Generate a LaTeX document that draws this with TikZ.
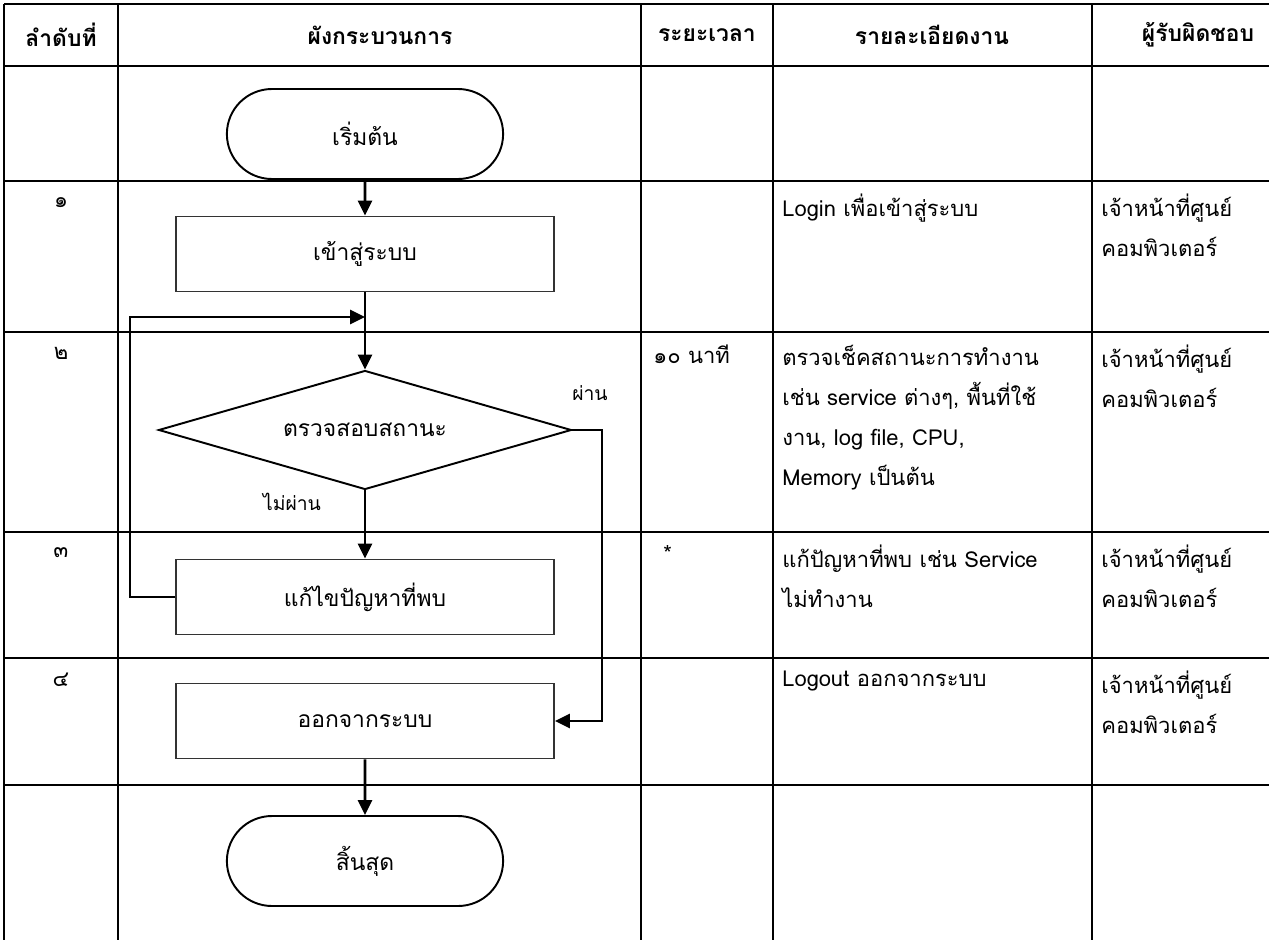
\documentclass[tikz,border=0pt]{standalone}
\usepackage{fontspec}
\setmainfont[Script=Thai]{Loma}
\usetikzlibrary{shapes, arrows.meta, positioning}
\tikzset{tableline/.style={line width=1.6pt}}
\tikzset{head/.style={inner sep=0pt, font=\fontsize{13}{16}\selectfont\bfseries}}
\tikzset{cell/.style={anchor=north west, align=left, inner sep=0pt, font=\fontsize{12.5}{22.7}\selectfont}}
\tikzset{num/.style={anchor=north, inner sep=0pt, font=\fontsize{12.5}{22.7}\selectfont}}
\tikzset{proc/.style={draw=black!80, line width=1.1pt, rectangle, minimum width=7.56cm, minimum height=1.5cm, font=\fontsize{13}{16}\selectfont}}
\tikzset{term/.style={draw, line width=1.1pt, rounded rectangle, minimum width=5.76cm, minimum height=1.8cm, font=\fontsize{13}{16}\selectfont}}
\tikzset{decide/.style={draw, line width=1.1pt, diamond, aspect=3.5, inner sep=0pt, minimum width=8.26cm, minimum height=2.38cm, font=\fontsize{13}{16}\selectfont}}
\tikzset{tag/.style={inner sep=0pt, font=\fontsize{11}{14}\selectfont}}
\tikzset{edge/.style={line width=1.5pt, -{Triangle[length=0.3cm, width=0.28cm]}}}

\begin{document}
\begin{tikzpicture}[x=0.02cm, y=-0.02cm]
            \useasboundingbox (0, 0) rectangle (1269, 940);

            \foreach \ypos in {4, 66, 181, 332, 532, 658, 785}
                \draw [tableline] (4, \ypos) -- (1269, \ypos);
            \foreach \xpos in {4, 118, 641, 773, 1092}
                \draw [tableline] (\xpos, 4) -- (\xpos, 940);

            \node [head] (Hno) at (61, 35) { ลำดับที่ };
            \node [head] (Hflow) at (380, 35) { ผังกระบวนการ };
            \node [head] (Htime) at (707, 35) { ระยะเวลา };
            \node [head] (Hdetail) at (932, 35) { รายละเอียดงาน };
            \node [head] (Howner) at (1198, 35) { ผู้รับผิดชอบ };

            \node [term] (Pstart) at (365, 134) { เริ่มต้น };
            \node [proc] (Plogin) at (365, 254) { เข้าสู่ระบบ };
            \node [decide] (Pcheck) at (365, 430) { ตรวจสอบสถานะ };
            \node [proc] (Pfix) at (365, 597) { แก้ไขปัญหาที่พบ };
            \node [proc] (Plogout) at (365, 721) { ออกจากระบบ };
            \node [term] (Pend) at (365, 861) { สิ้นสุด };

            \coordinate (Cpass) at (602, 430);
            \coordinate (Cback) at (130, 317);
            \coordinate (Cmerge) at (365, 317);

            \draw [edge] (Pstart) -- (Plogin);
            \draw [edge] (Plogin) -- (Pcheck);
            \draw [edge] (Pcheck) -- (Pfix);
            \draw [edge] (Plogout) -- (Pend);
            \draw [edge] (Pcheck.east) -- (Cpass) |- (Plogout.east);
            \draw [edge] (Pfix.west) -| (Cback) -- (Cmerge);

            \node [tag] (Lpass) at (590, 393) { ผ่าน };
            \node [tag] (Lfail) at (292, 502) { ไม่ผ่าน };

            \node [num] (N1) at (61, 197) { ๑ };
            \node [num] (N2) at (61, 347) { ๒ };
            \node [num] (N3) at (61, 547) { ๓ };
            \node [num] (N4) at (61, 673) { ๔ };

            \node [cell] (T2) at (653, 345) { ๑๐ นาที };
            \node [cell] (T3) at (663, 545) { * };

            \node [cell] (D1) at (782, 194) { Login เพื่อเข้าสู่ระบบ };
            \node [cell] (D2) at (782, 345) { ตรวจเช็คสถานะการทำงาน\\ เช่น service ต่างๆ, พื้นที่ใช้\\ งาน, log file, CPU,\\ Memory เป็นต้น };
            \node [cell] (D3) at (782, 545) { แก้ปัญหาที่พบ เช่น Service\\ ไม่ทำงาน };
            \node [cell] (D4) at (782, 671) { Logout ออกจากระบบ };

            \node [cell] (R1) at (1101, 194) { เจ้าหน้าที่ศูนย์\\ คอมพิวเตอร์ };
            \node [cell] (R2) at (1101, 345) { เจ้าหน้าที่ศูนย์\\ คอมพิวเตอร์ };
            \node [cell] (R3) at (1101, 545) { เจ้าหน้าที่ศูนย์\\ คอมพิวเตอร์ };
            \node [cell] (R4) at (1101, 671) { เจ้าหน้าที่ศูนย์\\ คอมพิวเตอร์ };
        \end{tikzpicture}
\end{document}
